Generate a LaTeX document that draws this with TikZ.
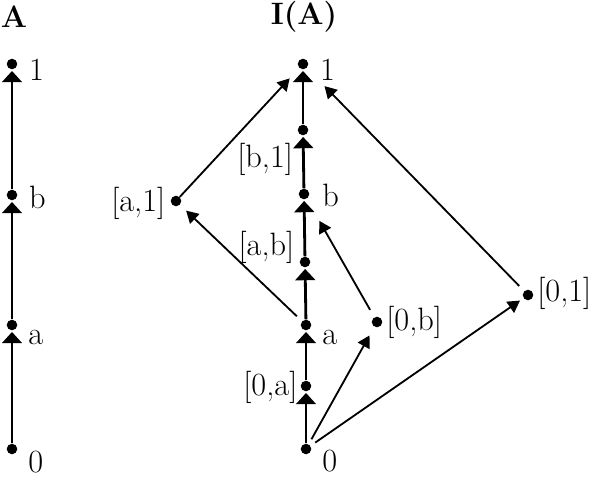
\documentclass[tikz,border=0pt]{standalone}
\usetikzlibrary{arrows.meta}

\begin{document}
\begin{tikzpicture}[x = 0.025cm, y = -0.025cm, font = \fontsize{23}{27}\selectfont,
  every label/.style = {inner sep = 1pt}]
\tikzstyle{dotStyle}=[shape = circle, minimum size = 7.5pt, inner sep = 0pt, fill]
\tikzstyle{titleStyle}=[font = \fontsize{22}{26}\selectfont\bfseries]
\tikzstyle{chainStyle}=[line width = 2pt, -{Triangle[width = 14pt, length = 8pt]}, shorten > = 1pt]
\tikzstyle{slantStyle}=[line width = 1.3pt, -{Triangle[width = 9.5pt, length = 8.5pt]}]
\useasboundingbox (0,0) rectangle (602,478);
\node[titleStyle] (tA) at (14,17) {A};
\node[titleStyle] (tIA) at (304,17) {I(A)};
% the chain A
\node[dotStyle, label = {[label distance = 7pt, yshift = -4pt]0:1}] (e1) at (12,64) {};
\node[dotStyle, label = {[label distance = 7pt, yshift = -2pt]0:b}] (eb) at (12,195) {};
\node[dotStyle, label = {[label distance = 6.5pt, yshift = -9pt]0:a}] (ea) at (12,325) {};
\node[dotStyle, label = {[label distance = 6.5pt, yshift = -9pt]0:0}] (e0) at (12,449) {};
% the intervals I(A)
\node[dotStyle, label = {[label distance = 7pt, yshift = -4pt]0:1}] (i1) at (303,64) {};
\node[dotStyle, label = {[label distance = 2pt, yshift = -21pt]180:{[b,1]}}] (ib1) at (303,130) {};
\node[dotStyle, label = {[label distance = 8pt, yshift = -1pt]0:b}] (ib) at (304,194) {};
\node[dotStyle, label = {[label distance = 2.5pt, yshift = 10.5pt]180:{[a,b]}}] (iab) at (305,262) {};
\node[dotStyle, label = {[label distance = 6.5pt, yshift = -9pt]0:a}] (ia) at (306,325) {};
\node[dotStyle, label = {[label distance = 1pt, yshift = -1pt]180:{[0,a]}}] (i0a) at (306,386) {};
\node[dotStyle, label = {[label distance = 6.5pt, yshift = -8.5pt]0:0}] (i0) at (306,449) {};
\node[dotStyle, label = {[label distance = 2.5pt, yshift = -1.5pt]180:{[a,1]}}] (ia1) at (176,201) {};
\node[dotStyle, label = {[label distance = 1.5pt]0:{[0,b]}}] (i0b) at (377,322) {};
\node[dotStyle, label = {[label distance = 1.5pt, yshift = 1pt]0:{[0,1]}}] (i01) at (528,295) {};
\draw[chainStyle] (e0) -- (ea);
\draw[chainStyle] (ea) -- (eb);
\draw[chainStyle] (eb) -- (e1);
\draw[chainStyle] (i0) -- (i0a);
\draw[chainStyle] (i0a) -- (ia);
\draw[chainStyle] (ia) -- (iab);
\draw[chainStyle] (iab) -- (ib);
\draw[chainStyle] (ib) -- (ib1);
\draw[chainStyle] (ib1) -- (i1);
\draw[slantStyle, shorten < = 5pt, shorten > = 6pt] (ia) -- (ia1);
\draw[slantStyle, shorten > = 10pt] (ia1) -- (i1);
\draw[slantStyle, shorten < = 5pt, shorten > = 18pt] (i01) -- (i1);
\draw[slantStyle, shorten < = 6pt, shorten > = 18pt] (i0b) -- (ib);
\draw[slantStyle, shorten < = 4pt, shorten > = 7pt] (i0) -- (i0b);
\draw[slantStyle, shorten < = 4pt, shorten > = 3pt] (i0) -- (i01);
\end{tikzpicture}
\end{document}
